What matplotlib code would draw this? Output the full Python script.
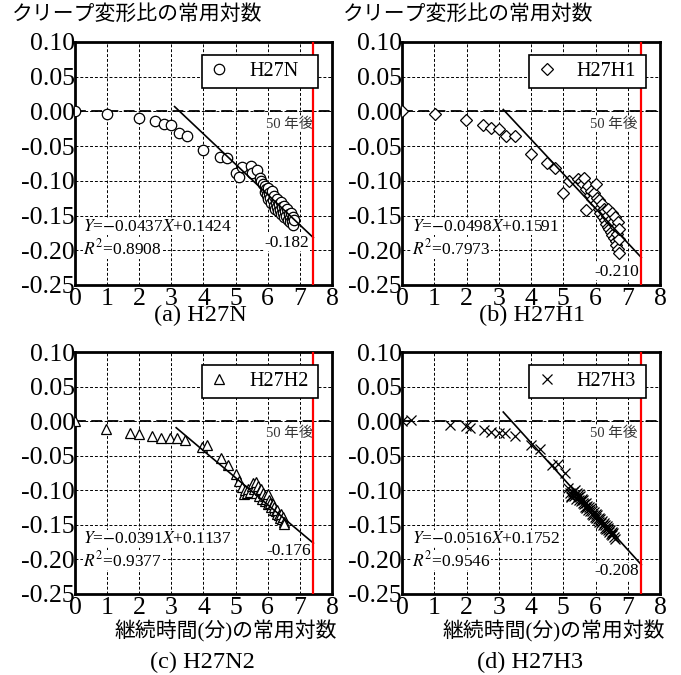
import matplotlib
matplotlib.use('Agg')
import matplotlib.pyplot as plt

plt.rcParams['font.family'] = ['Liberation Serif', 'Noto Sans CJK JP']
plt.rcParams['mathtext.fontset'] = 'stix'
plt.rcParams['axes.unicode_minus'] = False

# 継続時間(分)の常用対数 / クリープ変形比の常用対数
h27n_x = [0.00, 1.00, 1.98, 2.50, 2.76, 2.99, 3.25, 3.49, 4.00, 4.50, 4.74, 5.00, 5.10, 5.20,
          5.47, 5.50, 5.68, 5.77, 5.80, 5.85, 5.90, 5.92, 5.95, 5.98, 6.00, 6.02, 6.05, 6.08,
          6.10, 6.12, 6.15, 6.18, 6.20, 6.22, 6.25, 6.28, 6.30, 6.32, 6.35, 6.38, 6.40, 6.42,
          6.45, 6.48, 6.50, 6.52, 6.55, 6.58, 6.60, 6.62, 6.65, 6.68, 6.70, 6.72, 6.75, 6.78,
          6.80, 6.82]
h27n_y = [0.000, -0.004, -0.009, -0.014, -0.018, -0.019, -0.031, -0.036, -0.056, -0.065, -0.067,
          -0.089, -0.095, -0.080, -0.079, -0.089, -0.084, -0.096, -0.100, -0.104, -0.108, -0.116,
          -0.112, -0.120, -0.110, -0.126, -0.118, -0.124, -0.132, -0.114, -0.128, -0.136, -0.122,
          -0.140, -0.130, -0.138, -0.126, -0.144, -0.134, -0.142, -0.130, -0.148, -0.138, -0.146,
          -0.136, -0.152, -0.144, -0.150, -0.140, -0.156, -0.148, -0.154, -0.160, -0.146, -0.158,
          -0.152, -0.163, -0.156]

h27h1_x = [0.00, 1.01, 1.99, 2.51, 2.75, 3.00, 3.24, 3.49, 4.01, 4.50, 4.73, 4.99, 5.17, 5.46,
           5.55, 5.60, 5.65, 5.70, 5.72, 5.78, 5.82, 5.85, 5.90, 5.95, 6.00, 6.02, 6.05, 6.10,
           6.12, 6.15, 6.20, 6.22, 6.25, 6.28, 6.30, 6.32, 6.35, 6.38, 6.40, 6.42, 6.45, 6.48,
           6.50, 6.52, 6.55, 6.58, 6.60, 6.62, 6.65, 6.65, 6.68, 6.70, 6.70, 6.72, 6.72, 6.74]
h27h1_y = [0.000, -0.004, -0.012, -0.019, -0.024, -0.026, -0.036, -0.036, -0.062, -0.074, -0.082,
           -0.117, -0.100, -0.098, -0.100, -0.104, -0.096, -0.142, -0.112, -0.108, -0.120, -0.114,
           -0.126, -0.118, -0.104, -0.132, -0.124, -0.140, -0.128, -0.146, -0.134, -0.152, -0.140,
           -0.156, -0.144, -0.162, -0.150, -0.166, -0.140, -0.170, -0.156, -0.174, -0.146, -0.178,
           -0.160, -0.182, -0.152, -0.186, -0.166, -0.192, -0.176, -0.198, -0.160, -0.184, -0.204,
           -0.170]

h27h2_x = [0.00, 0.97, 1.72, 2.00, 2.40, 2.68, 2.95, 3.18, 3.44, 3.96, 4.10, 4.53, 4.76, 5.00,
           5.10, 5.20, 5.26, 5.30, 5.35, 5.40, 5.45, 5.50, 5.55, 5.58, 5.62, 5.65, 5.70, 5.72,
           5.75, 5.80, 5.82, 5.85, 5.90, 5.92, 5.95, 6.00, 6.02, 6.05, 6.08, 6.10, 6.15, 6.18,
           6.20, 6.25, 6.28, 6.30, 6.35, 6.38, 6.40, 6.45, 6.48, 6.50, 6.52]
h27h2_y = [0.000, -0.012, -0.017, -0.018, -0.022, -0.024, -0.024, -0.025, -0.027, -0.037, -0.035,
           -0.053, -0.063, -0.077, -0.087, -0.095, -0.106, -0.100, -0.104, -0.098, -0.102, -0.094,
           -0.090, -0.098, -0.088, -0.104, -0.094, -0.108, -0.100, -0.098, -0.112, -0.104, -0.108,
           -0.116, -0.112, -0.106, -0.120, -0.114, -0.118, -0.124, -0.120, -0.128, -0.124, -0.130,
           -0.134, -0.128, -0.136, -0.140, -0.134, -0.142, -0.138, -0.146, -0.149]

h27h3_x = [0.00, 0.29, 1.48, 1.99, 2.10, 2.54, 2.77, 3.00, 3.20, 3.49, 3.99, 4.27, 4.65, 4.84,
           5.04, 5.15, 5.25, 5.20, 5.25, 5.30, 5.32, 5.35, 5.38, 5.40, 5.42, 5.45, 5.48, 5.50,
           5.52, 5.55, 5.58, 5.60, 5.62, 5.65, 5.68, 5.70, 5.72, 5.75, 5.78, 5.80, 5.82, 5.85,
           5.88, 5.90, 5.92, 5.95, 5.98, 6.00, 6.02, 6.05, 6.08, 6.10, 6.12, 6.15, 6.18, 6.20,
           6.22, 6.25, 6.28, 6.30, 6.32, 6.35, 6.38, 6.40, 6.42, 6.45, 6.48, 6.50, 6.52, 6.55,
           6.58, 6.60]
h27h3_y = [0.000, 0.001, -0.005, -0.007, -0.010, -0.013, -0.015, -0.017, -0.017, -0.022, -0.034,
           -0.041, -0.063, -0.062, -0.075, -0.096, -0.108, -0.104, -0.110, -0.102, -0.108, -0.100,
           -0.106, -0.112, -0.104, -0.110, -0.106, -0.114, -0.108, -0.116, -0.112, -0.118, -0.114,
           -0.120, -0.124, -0.118, -0.126, -0.122, -0.128, -0.124, -0.130, -0.126, -0.134, -0.130,
           -0.136, -0.132, -0.138, -0.134, -0.140, -0.136, -0.142, -0.140, -0.146, -0.142, -0.148,
           -0.144, -0.150, -0.148, -0.154, -0.150, -0.156, -0.152, -0.158, -0.155, -0.160, -0.157,
           -0.163, -0.160, -0.165, -0.162, -0.168, -0.171]

names = ['H27N', 'H27H1', 'H27H2', 'H27H3']
captions = ['(a) H27N', '(b) H27H1', '(c) H27N2', '(d) H27H3']
series_x = [h27n_x, h27h1_x, h27h2_x, h27h3_x]
series_y = [h27n_y, h27h1_y, h27h2_y, h27h3_y]
slopes = [-0.0437, -0.0498, -0.0391, -0.0516]
intercepts = [0.1424, 0.1591, 0.1137, 0.1752]
r2_values = [0.8908, 0.7973, 0.9377, 0.9546]
pred_50y = ['-0.182', '-0.210', '-0.176', '-0.208']
fit_start = [3.10, 3.14, 3.15, 3.14]
x_50y = 7.42  # log10(50年の分数)

markers = ['o', 'D', '^', 'x']
marker_sizes = [7.5, 6.3, 7.5, 6.5]
axes_rects = [
    [0.1101, 0.5778, 0.3774, 0.3600],
    [0.5903, 0.5778, 0.3789, 0.3600],
    [0.1101, 0.1200, 0.3774, 0.3585],
    [0.5903, 0.1200, 0.3789, 0.3585],
]
pred_pos = [(6.60, -0.189), (6.67, -0.231), (6.66, -0.188), (6.67, -0.217)]
eq_pos = [(0.25, -0.166, -0.197), (0.31, -0.166, -0.197),
          (0.25, -0.170, -0.201), (0.31, -0.170, -0.201)]
caption_pos = [(0.294, 0.533), (0.781, 0.533), (0.297, 0.019), (0.778, 0.019)]

fig = plt.figure(figsize=(6.81, 6.75), dpi=100)

for i in range(4):
    ax = fig.add_axes(axes_rects[i])
    ax.set_xlim(0, 8)
    ax.set_ylim(-0.25, 0.10)
    ax.set_xticks(range(0, 9))
    ax.set_yticks([-0.25, -0.20, -0.15, -0.10, -0.05, 0.00, 0.05, 0.10])
    ax.set_yticklabels(['-0.25', '-0.20', '-0.15', '-0.10', '-0.05', '0.00', '0.05', '0.10'])
    ax.tick_params(length=0, labelsize=18.5, pad=2)
    ax.tick_params(axis='y', pad=0)
    ax.grid(True, color='black', linestyle=(0, (3, 2)), linewidth=0.7)
    ax.set_axisbelow(True)
    for s in ax.spines.values():
        s.set_linewidth(2.0)

    # 0 線
    ax.axhline(0, color='black', linewidth=1.3, linestyle=(0, (6, 3)), zorder=1.5)

    # 50年後
    ax.axvline(x_50y, color='#ff0000', linewidth=1.6, zorder=4)
    ax.text(5.95 if i in (0, 2) else 5.83, -0.018, '50 年後', fontsize=10.5, color='#333333',
            va='center', ha='left', zorder=2,
            bbox=dict(facecolor='white', edgecolor='none', pad=0.5))

    if markers[i] == 'x':
        ax.plot(series_x[i], series_y[i], linestyle='none', marker='x', color='black',
                markersize=marker_sizes[i], markeredgewidth=0.9, label=names[i], zorder=3)
    else:
        ax.plot(series_x[i], series_y[i], linestyle='none', marker=markers[i],
                markerfacecolor='white', markeredgecolor='black', markeredgewidth=0.9,
                markersize=marker_sizes[i], label=names[i], zorder=3)

    # 回帰直線
    xs = [fit_start[i], x_50y]
    ys = [slopes[i] * x + intercepts[i] for x in xs]
    ax.plot(xs, ys, color='black', linewidth=1.2, zorder=3.5)

    ex, ey1, ey2 = eq_pos[i]
    ax.text(ex, ey1, r'$Y$=$-$0.%s$X$+%.4f' % (f'{-slopes[i]:.4f}'[2:], intercepts[i]),
            fontsize=12.5, va='center', ha='left', zorder=2,
            bbox=dict(facecolor='white', edgecolor='none', pad=0.3))
    ax.text(ex, ey2, r'$R^2$=%.4f' % r2_values[i], fontsize=12.5, va='center', ha='left',
            zorder=2, bbox=dict(facecolor='white', edgecolor='none', pad=0.3))
    ax.text(pred_pos[i][0], pred_pos[i][1], pred_50y[i], fontsize=12.5, va='center',
            ha='center', zorder=2, bbox=dict(facecolor='white', edgecolor='none', pad=0.3))

    leg = ax.legend(loc='upper left', bbox_to_anchor=(0.494, 0.947, 0.452, 0.0),
                    mode='expand', fontsize=14.5, frameon=True, fancybox=False,
                    edgecolor='black', framealpha=1, borderpad=0.35, handlelength=1.0,
                    handletextpad=1.0, borderaxespad=0)
    leg.get_frame().set_linewidth(1.2)

    fig.text(caption_pos[i][0], caption_pos[i][1], captions[i], fontsize=17.5,
             ha='center', va='center')

fig.text(0.018, 0.978, 'クリープ変形比の常用対数', fontsize=15, ha='left', va='center')
fig.text(0.504, 0.978, 'クリープ変形比の常用対数', fontsize=15, ha='left', va='center')
fig.text(0.495, 0.064, '継続時間(分)の常用対数', fontsize=15, ha='right', va='center')
fig.text(0.976, 0.064, '継続時間(分)の常用対数', fontsize=15, ha='right', va='center')

fig.savefig('out.png', dpi=100)
